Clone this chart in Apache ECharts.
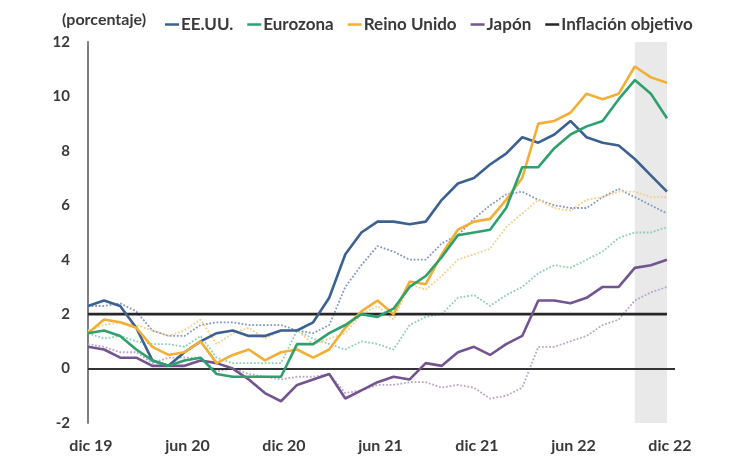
<!DOCTYPE html>
<html>
<head>
<meta charset="utf-8">
<script src="https://cdn.jsdelivr.net/npm/echarts@6/dist/echarts.min.js"></script>
<style>
html,body{margin:0;padding:0;background:#fff;}
#c{width:732px;height:457px;}
</style>
</head>
<body>
<div id="c"></div>
<script>
// month index 0 = dic 19 ... 36 = dic 22
const tickLabels = ['dic 19','jun 20','dic 20','jun 21','dic 21','jun 22','dic 22'];
const usa   = [2.3,2.5,2.3,1.5,0.3,0.1,0.6,1.0,1.3,1.4,1.2,1.2,1.4, 1.4,1.7,2.6,4.2,5.0,5.4,5.4,5.3,5.4,6.2,6.8,7.0, 7.5,7.9,8.5,8.3,8.6,9.1,8.5,8.3,8.2,7.7,7.1,6.5];
const euro  = [1.3,1.4,1.2,0.7,0.3,0.1,0.3,0.4,-0.2,-0.3,-0.3,-0.3,-0.3, 0.9,0.9,1.3,1.6,2.0,1.9,2.2,3.0,3.4,4.1,4.9,5.0, 5.1,5.9,7.4,7.4,8.1,8.6,8.9,9.1,9.9,10.6,10.1,9.2];
const uk    = [1.3,1.8,1.7,1.5,0.8,0.5,0.6,1.0,0.2,0.5,0.7,0.3,0.6, 0.7,0.4,0.7,1.5,2.1,2.5,2.0,3.2,3.1,4.2,5.1,5.4, 5.5,6.2,7.0,9.0,9.1,9.4,10.1,9.9,10.1,11.1,10.7,10.5];
const japan = [0.8,0.7,0.4,0.4,0.1,0.1,0.1,0.3,0.2,0.0,-0.4,-0.9,-1.2, -0.6,-0.4,-0.2,-1.1,-0.8,-0.5,-0.3,-0.4,0.2,0.1,0.6,0.8, 0.5,0.9,1.2,2.5,2.5,2.4,2.6,3.0,3.0,3.7,3.8,4.0];
const usaCore   = [2.3,2.3,2.4,2.1,1.4,1.2,1.2,1.6,1.7,1.7,1.6,1.6,1.6, 1.4,1.3,1.6,3.0,3.8,4.5,4.3,4.0,4.0,4.6,4.9,5.5, 6.0,6.4,6.5,6.2,6.0,5.9,5.9,6.3,6.6,6.3,6.0,5.7];
const euroCore  = [1.3,1.1,1.2,1.0,0.9,0.9,0.8,1.2,0.4,0.2,0.2,0.2,0.2, 1.4,1.1,0.9,0.7,1.0,0.9,0.7,1.6,1.9,2.0,2.6,2.7, 2.3,2.7,3.0,3.5,3.8,3.7,4.0,4.3,4.8,5.0,5.0,5.2];
const ukCore    = [1.4,1.6,1.7,1.6,1.4,1.2,1.4,1.8,0.9,1.3,1.5,1.1,1.4, 1.4,0.9,1.1,1.3,2.0,2.3,1.8,3.1,2.9,3.4,4.0,4.2, 4.4,5.2,5.7,6.2,5.9,5.8,6.2,6.3,6.5,6.5,6.3,6.3];
const japanCore = [0.9,0.8,0.6,0.6,0.2,0.4,0.4,0.4,-0.1,0.0,-0.2,-0.3,-0.4, -0.3,-0.3,-0.2,-0.9,-0.8,-0.6,-0.6,-0.5,-0.5,-0.7,-0.6,-0.7, -1.1,-1.0,-0.7,0.8,0.8,1.0,1.2,1.6,1.8,2.5,2.8,3.0];
const target = 2;
const shadeFrom = 34, shadeTo = 36;

const pts = arr => arr.map((v, i) => [i, v]);
const targetLine = usa.map((_, i) => [i, target]);

const FONT = 'Lato';
const TXT = '#3a3a3a';
const chart = echarts.init(document.getElementById('c'), null, {renderer: 'canvas'});

function solid(name, data, color) {
  return {name, type: 'line', data: pts(data), symbol: 'none', z: 5,
    lineStyle: {color, width: 2.6}, itemStyle: {color}};
}
function dotted(name, data, color) {
  return {name, type: 'line', data: pts(data), symbol: 'none', z: 3,
    lineStyle: {color, width: 1.8, type: 'dotted'}, itemStyle: {color}};
}

chart.setOption({
  animation: false,
  backgroundColor: '#fff',
  textStyle: {fontFamily: FONT},
  grid: {left: 88, right: 57, top: 42, bottom: 34, containLabel: false},
  graphic: [{type: 'text', left: 62, top: 12,
    style: {text: '(porcentaje)', fill: TXT, font: 'bold 16px ' + FONT}}],
  legend: {
    left: 160, top: 11, itemWidth: 14, itemHeight: 2.5, itemGap: 14, icon: 'rect',
    data: ['EE.UU.', 'Eurozona', 'Reino Unido', 'Japón', 'Inflación objetivo'],
    textStyle: {fontSize: 17, fontWeight: 'bold', color: TXT, fontFamily: FONT, padding: [0,0,0,-3]}
  },
  xAxis: {
    type: 'value', min: 0, max: 36.5, interval: 6,
    axisLine: {show: false}, axisTick: {show: false}, splitLine: {show: false},
    axisLabel: {
      color: TXT, fontSize: 16, fontWeight: 'bold', fontFamily: FONT, margin: 15,
      padding: [0, 0, 0, 6],
      formatter: v => (v % 6 === 0 ? tickLabels[v / 6] : '')
    }
  },
  yAxis: {
    type: 'value', min: -2, max: 12, interval: 2,
    axisLine: {show: true, lineStyle: {color: '#7f7f7f', width: 2}},
    axisTick: {show: false}, splitLine: {show: false},
    axisLabel: {color: TXT, fontSize: 15, fontWeight: 'bold', fontFamily: FONT, margin: 18}
  },
  series: [
    {name: 'shade', type: 'line', data: [], silent: true, z: 1,
      markArea: {silent: true, itemStyle: {color: '#e9e9e9'},
        data: [[{xAxis: shadeFrom}, {xAxis: shadeTo}]]}},
    dotted('EE.UU. subyacente', usaCore, '#8597c2'),
    dotted('Eurozona subyacente', euroCore, '#8fcfb2'),
    dotted('Reino Unido subyacente', ukCore, '#f6cf8a'),
    dotted('Japón subyacente', japanCore, '#b9a7cb'),
    {name: 'Inflación objetivo', type: 'line', data: targetLine, symbol: 'none', z: 4,
      lineStyle: {color: '#262626', width: 2.6}, itemStyle: {color: '#262626'},
      markLine: {silent: true, symbol: 'none', label: {show: false},
        lineStyle: {color: '#333', width: 2, type: 'solid'},
        data: [{yAxis: 0}]}},
    solid('Japón', japan, '#725590'),
    solid('EE.UU.', usa, '#3b6192'),
    solid('Reino Unido', uk, '#f2af36'),
    solid('Eurozona', euro, '#2ea06e')
  ]
});
</script>
</body>
</html>
